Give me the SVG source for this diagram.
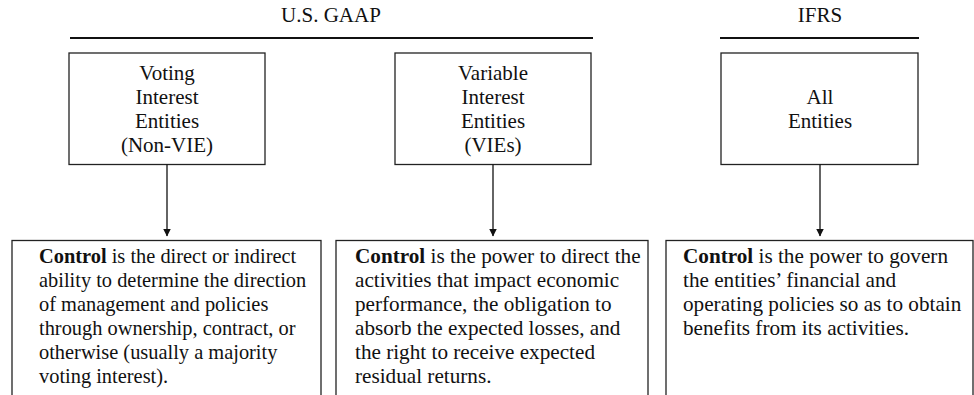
<svg xmlns="http://www.w3.org/2000/svg" width="974" height="395" viewBox="0 0 974 395">
  <style>
    .box { fill: #ffffff; stroke: #222222; stroke-width: 1.3; }
    .rule { stroke: #111111; stroke-width: 2; }
    .edge { stroke: #111111; stroke-width: 1.3; fill: none; }
    .head { font-family: "Liberation Serif", "Times New Roman", serif; font-size: 21px; fill: #111111; text-anchor: middle; }
    .lbl { font-family: "Liberation Serif", "Times New Roman", serif; font-size: 21px; fill: #111111; text-anchor: middle; }
    .body { font-family: "Liberation Serif", "Times New Roman", serif; font-size: 20.4px; fill: #111111; }
    .wide { font-size: 21.2px; }
    .b { font-weight: bold; }
  </style>
  <defs>
    <marker id="arrow" markerWidth="8" markerHeight="11" refX="7.5" refY="4" orient="auto" markerUnits="userSpaceOnUse">
      <path d="M0,0 L8,4 L0,8 Z" fill="#111111"/>
    </marker>
  </defs>
  <rect width="974" height="395" fill="#ffffff"/>

  <!-- framework headings -->
  <g id="heading-usgaap">
    <text class="head" x="331" y="22">U.S. GAAP</text>
    <line class="rule" x1="70" y1="38" x2="593" y2="38"/>
  </g>
  <g id="heading-ifrs">
    <text class="head" x="820" y="22">IFRS</text>
    <line class="rule" x1="720" y1="38" x2="919" y2="38"/>
  </g>

  <!-- entity type boxes -->
  <g id="node-voting">
    <rect class="box" x="69" y="53" width="196" height="111.5"/>
    <text class="lbl" x="167" y="80">Voting</text>
    <text class="lbl" x="167" y="104">Interest</text>
    <text class="lbl" x="167" y="128">Entities</text>
    <text class="lbl" x="167" y="152">(Non-VIE)</text>
  </g>
  <g id="node-vie">
    <rect class="box" x="395" y="53" width="196" height="111.5"/>
    <text class="lbl" x="493" y="80">Variable</text>
    <text class="lbl" x="493" y="104">Interest</text>
    <text class="lbl" x="493" y="128">Entities</text>
    <text class="lbl" x="493" y="152">(VIEs)</text>
  </g>
  <g id="node-all">
    <rect class="box" x="721" y="53" width="197" height="111.5"/>
    <text class="lbl" x="820" y="104">All</text>
    <text class="lbl" x="820" y="128">Entities</text>
  </g>

  <!-- control definition boxes -->
  <g id="node-control-voting">
    <rect class="box" x="12" y="240.5" width="309" height="170"/>
    <text class="body" x="39" y="263"><tspan class="b">Control</tspan> is the direct or indirect</text>
    <text class="body" x="39" y="287">ability to determine the direction</text>
    <text class="body" x="39" y="311">of management and policies</text>
    <text class="body" x="39" y="335">through ownership, contract, or</text>
    <text class="body" x="39" y="359">otherwise (usually a majority</text>
    <text class="body" x="39" y="383">voting interest).</text>
  </g>
  <g id="node-control-vie">
    <rect class="box" x="336" y="240.5" width="312" height="170"/>
    <text class="body wide" x="355" y="263"><tspan class="b">Control</tspan> is the power to direct the</text>
    <text class="body wide" x="355" y="287">activities that impact economic</text>
    <text class="body wide" x="355" y="311">performance, the obligation to</text>
    <text class="body wide" x="355" y="335">absorb the expected losses, and</text>
    <text class="body wide" x="355" y="359">the right to receive expected</text>
    <text class="body wide" x="355" y="383">residual returns.</text>
  </g>
  <g id="node-control-ifrs">
    <rect class="box" x="666" y="240.5" width="307" height="170"/>
    <text class="body wide" x="683" y="263"><tspan class="b">Control</tspan> is the power to govern</text>
    <text class="body wide" x="683" y="287">the entities’ financial and</text>
    <text class="body wide" x="683" y="311">operating policies so as to obtain</text>
    <text class="body wide" x="683" y="335">benefits from its activities.</text>
  </g>

  <!-- connectors -->
  <g id="connectors">
    <line class="edge" x1="167" y1="164.5" x2="167" y2="236" marker-end="url(#arrow)"/>
    <line class="edge" x1="493" y1="164.5" x2="493" y2="236" marker-end="url(#arrow)"/>
    <line class="edge" x1="820" y1="164.5" x2="820" y2="236" marker-end="url(#arrow)"/>
  </g>
</svg>
